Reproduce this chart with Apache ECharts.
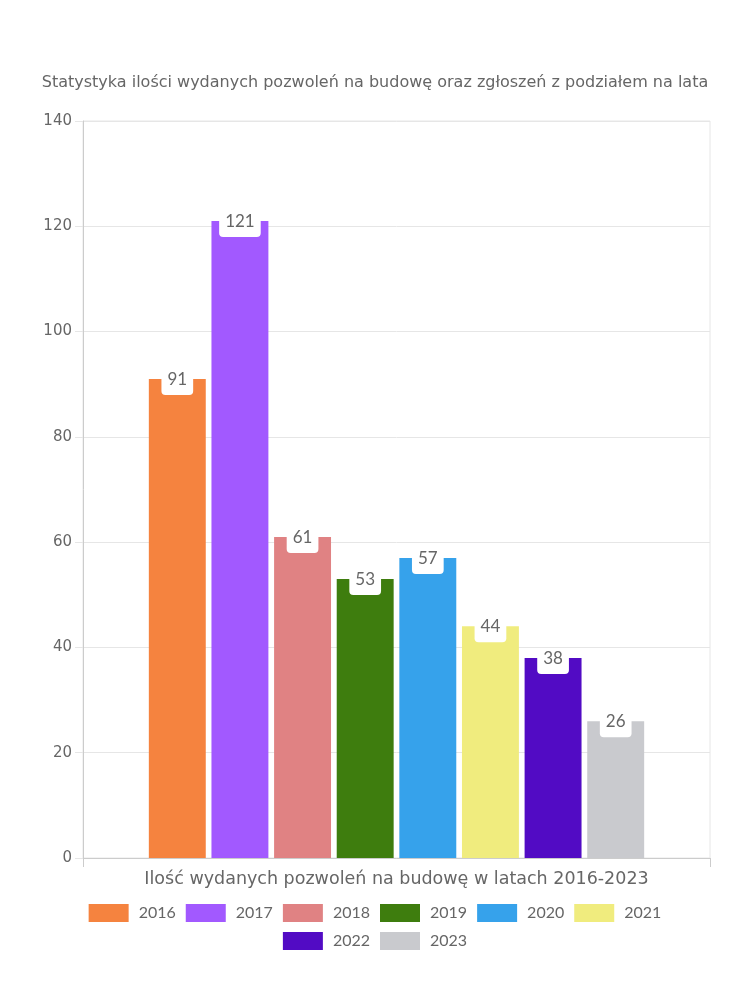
<!DOCTYPE html>
<html>
<head>
<meta charset="utf-8">
<script src="https://cdn.jsdelivr.net/npm/echarts@6/dist/echarts.min.js"></script>
<style>html,body{margin:0;padding:0;background:#fff}#c{width:750px;height:1000px}</style>
</head>
<body>
<div id="c"></div>
<script>
const years = ['2016','2017','2018','2019','2020','2021','2022','2023'];
const values = [91, 121, 61, 53, 57, 44, 38, 26];
const colors = ['#F5833F','#A259FF','#E08283','#3E7D0E','#36A2EB','#F0EC7E','#520BC4','#C9CACE'];
const category = ['Ilość wydanych pozwoleń na budowę w latach 2016-2023'];
const titleText = 'Statystyka ilości wydanych pozwoleń na budowę oraz zgłoszeń z podziałem na lata';
const yTicks = {min: 0, max: 140, interval: 20};

const WIDE = '"DejaVu Sans", sans-serif';
const NARROW = 'Lato, "Noto Sans", sans-serif';
const legendCommon = {
  left: 'center', itemWidth: 40, itemHeight: 18, itemGap: 10, icon: 'rect',
  textStyle: {fontFamily: NARROW, fontSize: 16, color: '#666', padding: [0,0,0,5]}
};
const chart = echarts.init(document.getElementById('c'));
chart.setOption({
  animation: false,
  backgroundColor: '#fff',
  title: {
    text: titleText, left: 'center', top: 70,
    textStyle: {fontFamily: WIDE, fontSize: 16, fontWeight: 'normal', color: '#666'}
  },
  grid: {left: 83, right: 40, top: 121, bottom: 142, show: true, borderColor: '#e6e6e6', borderWidth: 1},
  legend: [
    Object.assign({data: years.slice(0, 6), top: 899}, legendCommon),
    Object.assign({data: years.slice(6), top: 927}, legendCommon)
  ],
  xAxis: {
    type: 'category', data: category,
    axisLine: {lineStyle: {color: '#ccc'}},
    axisTick: {show: true, length: 9, lineStyle: {color: '#ccc'}},
    axisLabel: {fontFamily: WIDE, fontSize: 17.5, color: '#666', margin: 12}
  },
  yAxis: {
    type: 'value', min: yTicks.min, max: yTicks.max, interval: yTicks.interval,
    axisLine: {show: true, lineStyle: {color: '#ccc'}},
    axisTick: {show: true, length: 8, lineStyle: {color: '#e6e6e6'}},
    axisLabel: {fontFamily: WIDE, fontSize: 15, color: '#666', margin: 11},
    splitLine: {lineStyle: {color: '#e6e6e6'}}
  },
  series: years.map((y, i) => ({
    name: y, type: 'bar',
    data: [values[i]],
    itemStyle: {color: colors[i]},
    barGap: '10%', barCategoryGap: '21%',
    label: {
      show: true, position: 'insideTop', distance: 0, offset: [0, -10],
      backgroundColor: '#fff', borderRadius: 4, padding: [2, 6, 7, 6],
      fontFamily: NARROW, fontSize: 17, lineHeight: 17, color: '#666'
    }
  }))
});
</script>
</body>
</html>
